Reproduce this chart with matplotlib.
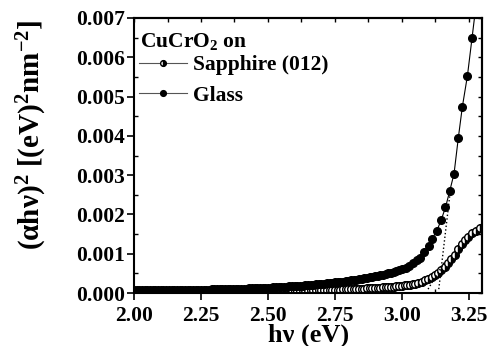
import matplotlib
matplotlib.use("Agg")
import matplotlib.pyplot as plt
from matplotlib.ticker import MultipleLocator, FormatStrFormatter
import numpy as np

plt.rcParams['font.family'] = ['Liberation Serif', 'DejaVu Serif']
plt.rcParams['font.weight'] = 'bold'
plt.rcParams['mathtext.fontset'] = 'custom'
plt.rcParams['mathtext.rm'] = 'Liberation Serif:bold'
plt.rcParams['mathtext.it'] = 'Liberation Serif:bold'
plt.rcParams['mathtext.bf'] = 'Liberation Serif:bold'

# ---- data ----
low_e = [
    2.00, 2.01, 2.02, 2.03, 2.04, 2.05, 2.06, 2.07, 2.08, 2.09,
    2.10, 2.11, 2.12, 2.13, 2.14, 2.15, 2.16, 2.17, 2.18, 2.19,
    2.20, 2.21, 2.22, 2.23, 2.24, 2.25, 2.26, 2.27, 2.28, 2.29,
    2.30, 2.31, 2.32, 2.33, 2.34, 2.35, 2.36, 2.37, 2.38, 2.39,
    2.40, 2.41, 2.42, 2.43, 2.44, 2.45, 2.46, 2.47, 2.48, 2.49,
    2.50, 2.51, 2.52, 2.53, 2.54, 2.55, 2.56, 2.57, 2.58, 2.59,
    2.60, 2.61, 2.62, 2.63, 2.64, 2.65, 2.66, 2.67, 2.68, 2.69,
    2.70, 2.71, 2.72, 2.73, 2.74, 2.75, 2.76, 2.77, 2.78, 2.79,
    2.80, 2.81, 2.82, 2.83, 2.84, 2.85, 2.86, 2.87, 2.88, 2.89,
    2.90, 2.91, 2.92, 2.93, 2.94, 2.95, 2.96, 2.97, 2.98, 2.99,
]

glass_e = low_e + [
    3.000, 3.014, 3.028, 3.042, 3.056, 3.067, 3.082, 3.100, 3.113, 3.131,
    3.147, 3.163, 3.179, 3.195, 3.211, 3.226, 3.245, 3.262, 3.280,
]
glass_v = [
    0.0000700, 0.0000700, 0.0000710, 0.0000710, 0.0000720, 0.0000720, 0.0000730, 0.0000730, 0.0000740, 0.0000740,
    0.0000750, 0.0000750, 0.0000760, 0.0000770, 0.0000770, 0.0000780, 0.0000790, 0.0000790, 0.0000800, 0.0000810,
    0.0000820, 0.0000830, 0.0000840, 0.0000850, 0.0000860, 0.0000870, 0.0000880, 0.0000890, 0.0000900, 0.0000920,
    0.0000930, 0.0000950, 0.0000960, 0.0000980, 0.0001000, 0.0001020, 0.0001040, 0.0001060, 0.0001080, 0.0001100,
    0.0001120, 0.0001140, 0.0001160, 0.0001190, 0.0001210, 0.0001240, 0.0001260, 0.0001290, 0.0001320, 0.0001350,
    0.0001380, 0.0001410, 0.0001440, 0.0001480, 0.0001510, 0.0001550, 0.0001590, 0.0001630, 0.0001670, 0.0001710,
    0.0001760, 0.0001810, 0.0001860, 0.0001910, 0.0001960, 0.0002020, 0.0002080, 0.0002140, 0.0002200, 0.0002260,
    0.0002330, 0.0002400, 0.0002470, 0.0002540, 0.0002620, 0.0002700, 0.0002780, 0.0002860, 0.0002940, 0.0003030,
    0.0003120, 0.0003210, 0.0003310, 0.0003410, 0.0003510, 0.0003620, 0.0003730, 0.0003850, 0.0003970, 0.0004100,
    0.0004230, 0.0004370, 0.0004520, 0.0004680, 0.0004850, 0.0005030, 0.0005220, 0.0005420, 0.0005630, 0.0005850,
    0.00061, 0.00065, 0.00070, 0.00076, 0.00083, 0.00090, 0.00104, 0.00121, 0.00138, 0.00159,
    0.00186, 0.00218, 0.00260, 0.00304, 0.00395, 0.00474, 0.00553, 0.00648, 0.00750,
]

sapph_e = low_e + [
    3.00, 3.01, 3.02, 3.03, 3.04, 3.05, 3.062, 3.074, 3.086, 3.098,
    3.111, 3.123, 3.135, 3.148, 3.160, 3.173, 3.185, 3.197, 3.210, 3.223,
    3.235, 3.247, 3.262, 3.276, 3.291, 3.306,
]
sapph_v = [
    0.0000300, 0.0000300, 0.0000300, 0.0000310, 0.0000310, 0.0000310, 0.0000310, 0.0000320, 0.0000320, 0.0000320,
    0.0000320, 0.0000330, 0.0000330, 0.0000330, 0.0000330, 0.0000340, 0.0000340, 0.0000340, 0.0000350, 0.0000350,
    0.0000350, 0.0000360, 0.0000360, 0.0000360, 0.0000370, 0.0000370, 0.0000370, 0.0000380, 0.0000380, 0.0000390,
    0.0000390, 0.0000400, 0.0000400, 0.0000410, 0.0000410, 0.0000420, 0.0000420, 0.0000430, 0.0000430, 0.0000440,
    0.0000440, 0.0000450, 0.0000460, 0.0000460, 0.0000470, 0.0000480, 0.0000480, 0.0000490, 0.0000500, 0.0000510,
    0.0000520, 0.0000530, 0.0000540, 0.0000550, 0.0000560, 0.0000570, 0.0000580, 0.0000590, 0.0000600, 0.0000610,
    0.0000620, 0.0000630, 0.0000650, 0.0000660, 0.0000670, 0.0000690, 0.0000700, 0.0000720, 0.0000730, 0.0000750,
    0.0000760, 0.0000780, 0.0000800, 0.0000820, 0.0000840, 0.0000860, 0.0000880, 0.0000900, 0.0000920, 0.0000940,
    0.0000970, 0.0000990, 0.0001020, 0.0001050, 0.0001080, 0.0001110, 0.0001140, 0.0001170, 0.0001210, 0.0001250,
    0.0001290, 0.0001330, 0.0001370, 0.0001420, 0.0001470, 0.0001520, 0.0001580, 0.0001640, 0.0001700, 0.0001770,
    0.000190, 0.000198, 0.000207, 0.000217, 0.000228, 0.000240, 0.000260, 0.000290, 0.000320, 0.000360,
    0.000410, 0.000460, 0.000520, 0.000590, 0.000670, 0.000760, 0.000860, 0.000970, 0.001110, 0.001240,
    0.001340, 0.001430, 0.001520, 0.001590, 0.001650, 0.001710,
]

# linear extrapolation lines (dotted)
glass_fit_e = [3.138, 3.181]
glass_fit_v = [0.00010, 0.00260]
sapph_fit_e = [3.098, 3.160]
sapph_fit_v = [0.00010, 0.00080]

xticks = [2.00, 2.25, 2.50, 2.75, 3.00, 3.25]
yticks = [0.000, 0.001, 0.002, 0.003, 0.004, 0.005, 0.006, 0.007]

# ---- figure ----
fig = plt.figure(figsize=(4.91, 3.46), dpi=100)
ax = fig.add_axes([0.273, 0.153, 0.709, 0.795])

ms = 5.5
ls, = ax.plot(sapph_e, sapph_v, '-', color='black', lw=0.8, marker='o', ms=ms,
              mfc='black', mfcalt='white', fillstyle='right', mec='black', mew=1.0,
              label='Sapphire (012)')
lg, = ax.plot(glass_e, glass_v, '-', color='black', lw=0.8, marker='o', ms=ms,
              mfc='black', mec='black', mew=1.0, label='Glass')
ax.plot(glass_fit_e, glass_fit_v, ':', color='black', lw=1.0)
ax.plot(sapph_fit_e, sapph_fit_v, ':', color='black', lw=1.0)

ax.set_xlim(2.0, 3.3)
ax.set_ylim(0.0, 0.007)
ax.set_xticks(xticks)
ax.set_yticks(yticks)
ax.xaxis.set_minor_locator(MultipleLocator(0.125))
ax.yaxis.set_minor_locator(MultipleLocator(0.0005))
ax.xaxis.set_major_formatter(FormatStrFormatter('%.2f'))
ax.yaxis.set_major_formatter(FormatStrFormatter('%.3f'))
ax.tick_params(axis='both', which='major', direction='out', length=5, width=1.2,
               labelsize=15.5, pad=1.5)
ax.tick_params(axis='x', which='major', pad=4)
ax.tick_params(axis='both', which='minor', direction='in', length=3, width=1.0)
for t in ax.get_xticklabels() + ax.get_yticklabels():
    t.set_fontweight('bold')
for s in ax.spines.values():
    s.set_linewidth(1.5)

# mirrored ticks on top and right (inward)
top = ax.secondary_xaxis('top')
top.set_xticks(xticks)
top.xaxis.set_minor_locator(MultipleLocator(0.125))
top.tick_params(which='both', direction='in', labeltop=False, length=3, width=1.0)
right = ax.secondary_yaxis('right')
right.set_yticks(yticks)
right.yaxis.set_minor_locator(MultipleLocator(0.0005))
right.tick_params(which='both', direction='in', labelright=False, length=3, width=1.0)
for sec in (top, right):
    for s in sec.spines.values():
        s.set_linewidth(1.5)

ax.set_xlabel('h\u03bd (eV)', fontsize=19, fontweight='bold', labelpad=-1.5)
ax.set_ylabel('(\u03b1h\u03bd)$^2$ [(eV)$^2$nm$^{-2}$]', fontsize=21,
              fontweight='bold')
ax.yaxis.set_label_coords(-0.243, 0.575)

ax.text(0.017, 0.913, 'CuCrO$_2$ on', transform=ax.transAxes, fontsize=15.5,
        fontweight='bold', ha='left', va='center')

leg = ax.legend(handles=[ls, lg], loc='upper left', frameon=False,
                bbox_to_anchor=(0.0, 0.884), fontsize=15.5,
                handlelength=2.2, handletextpad=0.3, labelspacing=0.49,
                borderaxespad=0.0, borderpad=0.25, markerscale=0.75)
for t in leg.get_texts():
    t.set_fontweight('bold')
for h in leg.legend_handles:
    h.set_color('#555555')
    h.set_markeredgecolor('black')
    h.set_markerfacecolor('black')

fig.savefig('out.png', dpi=100)
